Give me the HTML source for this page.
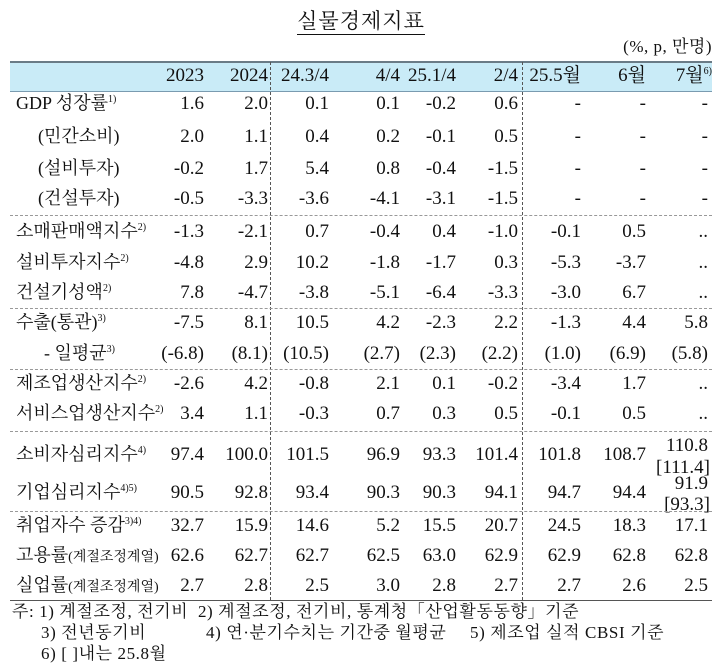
<!DOCTYPE html>
<html><head><meta charset="utf-8"><style>
body{margin:0;background:#fff;width:722px;height:667px;position:relative;overflow:hidden;font-family:"Liberation Serif","Noto Serif CJK KR","Noto Serif CJK SC",serif;color:#111}
.a{position:absolute;white-space:nowrap;line-height:1}
.r{position:absolute;white-space:nowrap;line-height:1;text-align:right;font-size:19px}
.l{position:absolute;white-space:nowrap;line-height:1;font-size:18px;left:16px}
sup{font-size:10px;vertical-align:7px;line-height:0}
.hd{position:absolute;left:10px;width:702px;border-top:1px dashed #999}
.vd{position:absolute;top:62px;height:538px;border-left:1px dashed #555}
.n{position:absolute;white-space:nowrap;line-height:1;font-size:17px;letter-spacing:0.6px}
</style></head><body>
<div class="a" style="left:0;width:722px;top:11px;text-align:center;font-size:21px;letter-spacing:1px"><span style="border-bottom:1.5px solid #111;padding-bottom:1px">실물경제지표</span></div>
<div class="a" style="right:10px;top:38px;font-size:17px;letter-spacing:0.5px">(%, p, 만명)</div>
<div style="position:absolute;left:10px;top:61px;width:702px;height:28px;background:#c9ebf7;border-top:2px solid #6a7b86;border-bottom:1.5px solid #7a9bb0"></div>
<div class="vd" style="left:270px"></div>
<div class="vd" style="left:522px"></div>
<div id="t"></div>
<div class="hd" style="top:215px"></div>
<div class="hd" style="top:308px"></div>
<div class="hd" style="top:369px"></div>
<div class="hd" style="top:431px"></div>
<div class="hd" style="top:511px"></div>
<div style="position:absolute;left:10px;width:702px;top:600px;border-top:1.5px solid #555"></div>
<div class="n" style="left:12px;top:603px">주: 1) 계절조정, 전기비&nbsp; 2) 계절조정, 전기비, 통계청「산업활동동향」기준</div>
<div class="n" style="left:41px;top:624px">3) 전년동기비</div>
<div class="n" style="left:206px;top:624px">4) 연·분기수치는 기간중 월평균</div>
<div class="n" style="left:470px;top:624px">5) 제조업 실적 CBSI 기준</div>
<div class="n" style="left:41px;top:645px">6) [ ]내는 25.8월</div>
<script>
var R=[204,268,329,400,456,518,581,646,708];
var H=['2023','2024','24.3/4','4/4','25.1/4','2/4','25.5월','6월','7월<sup>6)</sup>'];
var rows=[
[104,'GDP 성장률<sup>1)</sup>',16,['1.6','2.0','0.1','0.1','-0.2','0.6','-','-','-']],
[137,'(민간소비)',38,['2.0','1.1','0.4','0.2','-0.1','0.5','-','-','-']],
[169,'(설비투자)',38,['-0.2','1.7','5.4','0.8','-0.4','-1.5','-','-','-']],
[199,'(건설투자)',38,['-0.5','-3.3','-3.6','-4.1','-3.1','-1.5','-','-','-']],
[232,'소매판매액지수<sup>2)</sup>',16,['-1.3','-2.1','0.7','-0.4','0.4','-1.0','-0.1','0.5','..']],
[263,'설비투자지수<sup>2)</sup>',16,['-4.8','2.9','10.2','-1.8','-1.7','0.3','-5.3','-3.7','..']],
[293,'건설기성액<sup>2)</sup>',16,['7.8','-4.7','-3.8','-5.1','-6.4','-3.3','-3.0','6.7','..']],
[323,'수출(통관)<sup>3)</sup>',16,['-7.5','8.1','10.5','4.2','-2.3','2.2','-1.3','4.4','5.8']],
[354,'- 일평균<sup>3)</sup>',44,['(-6.8)','(8.1)','(10.5)','(2.7)','(2.3)','(2.2)','(1.0)','(6.9)','(5.8)']],
[384,'제조업생산지수<sup>2)</sup>',16,['-2.6','4.2','-0.8','2.1','0.1','-0.2','-3.4','1.7','..']],
[414,'서비스업생산지수<sup>2)</sup>',16,['3.4','1.1','-0.3','0.7','0.3','0.5','-0.1','0.5','..']],
[455,'소비자심리지수<sup>4)</sup>',16,['97.4','100.0','101.5','96.9','93.3','101.4','101.8','108.7','']],
[493,'기업심리지수<sup>4)5)</sup>',16,['90.5','92.8','93.4','90.3','90.3','94.1','94.7','94.4','']],
[526,'취업자수 증감<sup>3)4)</sup>',16,['32.7','15.9','14.6','5.2','15.5','20.7','24.5','18.3','17.1']],
[556,'고용률<span style="font-size:14px">(계절조정계열)</span>',16,['62.6','62.7','62.7','62.5','63.0','62.9','62.9','62.8','62.8']],
[586,'실업률<span style="font-size:14px">(계절조정계열)</span>',16,['2.7','2.8','2.5','3.0','2.8','2.7','2.7','2.6','2.5']]];
var s='';
H.forEach(function(h,i){s+='<div class="r" style="right:'+(722-R[i]-(i==8?4:0))+'px;top:66px;font-size:19px">'+h+'</div>';});
rows.forEach(function(r){
 s+='<div class="l" style="left:'+r[2]+'px;top:'+(r[0]-10)+'px">'+r[1]+'</div>';
 r[3].forEach(function(v,i){if(v!=='')s+='<div class="r" style="right:'+(722-R[i])+'px;top:'+(r[0]-10)+'px">'+v+'</div>';});
});
s+='<div class="r" style="right:14px;top:436px">110.8</div><div class="r" style="right:12px;top:458px">[111.4]</div>';
s+='<div class="r" style="right:14px;top:474px">91.9</div><div class="r" style="right:12px;top:495px">[93.3]</div>';
document.getElementById('t').innerHTML=s;
</script>
</body></html>
